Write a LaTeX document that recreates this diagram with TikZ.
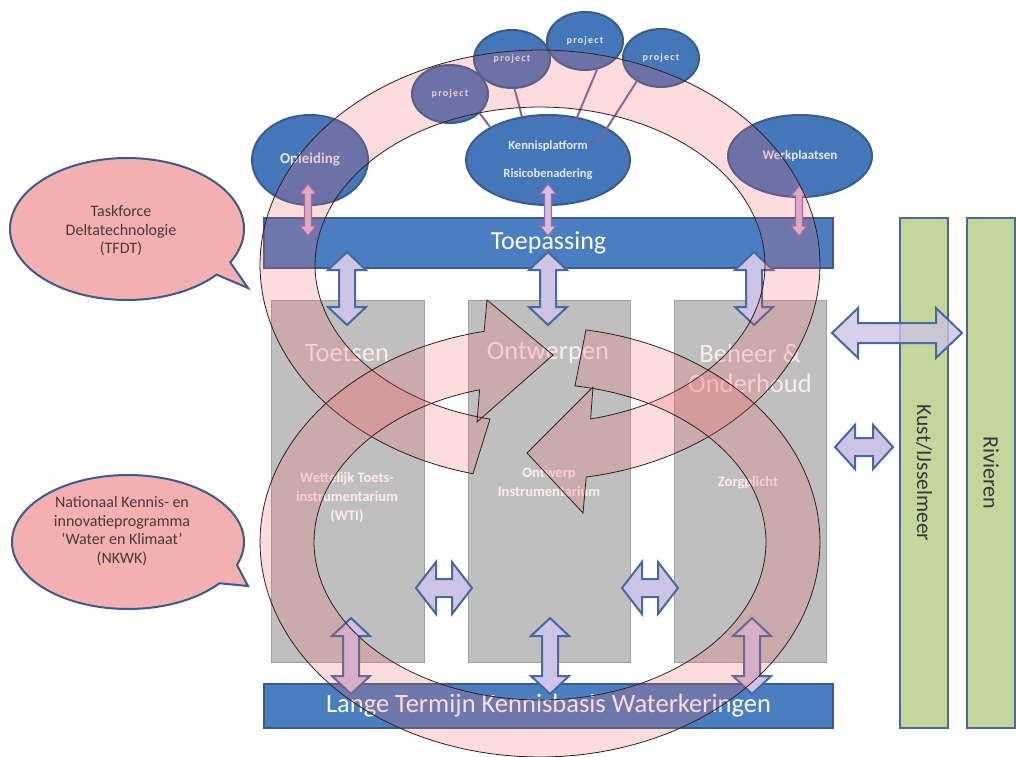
\documentclass[tikz,border=0pt]{standalone}
\usepackage{fontspec}
\setmainfont{Carlito}
\usetikzlibrary{shapes.geometric}
\definecolor{calloutpink}{RGB}{244,176,176}
\definecolor{calloutborder}{RGB}{60,90,140}
\definecolor{calltext}{RGB}{70,58,58}
\definecolor{pillargray}{RGB}{191,191,191}
\definecolor{pillarborder}{RGB}{160,160,160}
\definecolor{pillartext}{RGB}{252,236,236}
\definecolor{bluefill}{RGB}{74,126,193}
\definecolor{blueborder}{RGB}{56,93,138}
\definecolor{ellfill}{RGB}{70,118,186}
\definecolor{elltext}{RGB}{228,234,246}
\definecolor{connpurple}{RGB}{128,100,162}
\definecolor{arrowfill}{RGB}{204,196,228}
\definecolor{arrowborder}{RGB}{70,105,160}
\definecolor{thinfill}{RGB}{215,190,220}
\definecolor{thinborder}{RGB}{150,110,170}
\definecolor{greenfill}{RGB}{195,214,155}
\definecolor{greenborder}{RGB}{75,105,150}
\definecolor{gtextcol}{RGB}{55,55,55}
\definecolor{ringfill}{RGB}{245,100,100}
\definecolor{ringline}{RGB}{50,30,30}
% vertical double arrow: style, x, ytop, ybottom, shaft half, head half, head length
\newcommand\VDA[7]{%
\filldraw[#1] (#2,#3) -- ({#2+#6},{#3+#7}) -- ({#2+#5},{#3+#7}) -- ({#2+#5},{#4-#7}) -- ({#2+#6},{#4-#7}) -- (#2,#4) -- ({#2-#6},{#4-#7}) -- ({#2-#5},{#4-#7}) -- ({#2-#5},{#3+#7}) -- ({#2-#6},{#3+#7}) -- cycle;}
% horizontal double arrow: style, y, xleft, xright, shaft half, head half, head length
\newcommand\HDA[7]{%
\filldraw[#1] (#3,#2) -- ({#3+#7},{#2-#6}) -- ({#3+#7},{#2-#5}) -- ({#4-#7},{#2-#5}) -- ({#4-#7},{#2-#6}) -- (#4,#2) -- ({#4-#7},{#2+#6}) -- ({#4-#7},{#2+#5}) -- ({#3+#7},{#2+#5}) -- ({#3+#7},{#2+#6}) -- cycle;}
\begin{document}
\begin{tikzpicture}[x=1pt,y=-1pt,
  callout/.style={fill=calloutpink, draw=calloutborder, line width=2pt},
  ctext/.style={text=calltext, align=center, font=\fontsize{16}{18.5}\selectfont},
  pillar/.style={draw=pillarborder, fill=pillargray, line width=0.8pt, inner sep=0pt, minimum height=362pt},
  ptitle/.style={text=pillartext, align=center, font=\fontsize{26.5}{30}\selectfont},
  psub/.style={text=pillartext, align=center, font=\fontsize{14.5}{19}\selectfont\bfseries},
  bluebar/.style={draw=blueborder, fill=bluefill, line width=1.5pt, text=white, inner sep=0pt, minimum width=569pt},
  blueell/.style={ellipse, draw=blueborder, fill=ellfill, line width=2pt, text=elltext, align=center, inner sep=0pt},
  proj/.style={blueell, minimum width=76pt, minimum height=58pt, font=\fontsize{10}{12}\selectfont\bfseries\addfontfeature{LetterSpace=12}},
  conn/.style={draw=connpurple, line width=2pt},
  bigarrow/.style={fill=arrowfill, draw=arrowborder, line width=2pt, line join=miter},
  thinarrow/.style={fill=thinfill, draw=thinborder, line width=1.2pt, line join=miter},
  greenbar/.style={draw=greenborder, fill=greenfill, line width=2pt, inner sep=0pt, minimum width=48pt, minimum height=510pt},
  gtext/.style={text=gtextcol, rotate=-90, font=\fontsize{21.5}{24}\selectfont},
  ring/.style={fill=ringfill, fill opacity=0.22, draw=ringline, line width=0.8pt}]
\useasboundingbox (0,0) rectangle (1016,756);
\fill[white] (0,0) rectangle (1016,756);
\clip (0,0) rectangle (1016,756);

% callouts
\filldraw[callout] plot[domain=40:388, samples=120] ({127+117*cos(\x)},{229+71*sin(\x)}) -- (248,288) -- cycle;
\node[ctext] (tfdt) at (121,231) {Taskforce\\Deltatechnologie\\(TFDT)};
\filldraw[callout] plot[domain=38:380, samples=120] ({128+116*cos(\x)},{542+67*sin(\x)}) -- (248,586) -- cycle;
\node[ctext] (nkwk) at (122,531) {Nationaal Kennis- en\\innovatieprogramma\\‘Water en Klimaat’\\(NKWK)};

% green bars
\node[greenbar] (kust) at (924,473) {};
\node[greenbar] (riv) at (991,473) {};
\node[gtext] (kustt) at (924,473) {Kust/IJsselmeer};
\node[gtext, font=\fontsize{22}{24}\selectfont] (rivt) at (991,473) {Rivieren};

% pillars
\node[pillar, minimum width=153pt] (pil1) at (347.5,481) {};
\node[pillar, minimum width=162pt] (pil2) at (549,481) {};
\node[pillar, minimum width=152pt] (pil3) at (750,481) {};
\node[ptitle] (t1) at (347,353) {Toetsen};
\node[ptitle] (t2) at (548,353) {Ontwerpen};
\node[ptitle] (t3) at (750,368) {Beheer \&\\Onderhoud};
\node[psub] (s1) at (347,497) {Wettelijk Toets-\\instrumentarium\\(WTI)};
\node[psub] (s2) at (549,482) {Ontwerp\\Instrumentarium};
\node[psub] (s3) at (748,483) {Zorgplicht};

% bars
\node[bluebar, minimum height=50pt, font=\fontsize{26}{30}\selectfont] (toep) at (548.5,243) {Toepassing};
\node[bluebar, minimum height=44pt, font=\fontsize{26.5}{30}\selectfont] (lange) at (548.5,706) {Lange Termijn Kennisbasis Waterkeringen};

% ellipses
\node[blueell, minimum width=116pt, minimum height=90pt, font=\fontsize{15}{18}\selectfont\bfseries] (opl) at (310,160) {Opleiding};
\node[blueell, minimum width=164pt, minimum height=90pt, font=\fontsize{12.5}{15}\selectfont\bfseries] (kp) at (548,160) {Kennisplatform\\[13pt]Risicobenadering};
\node[blueell, minimum width=144pt, minimum height=82pt, font=\fontsize{13}{15}\selectfont\bfseries] (wp) at (800,156) {Werkplaatsen};
\node[proj] (p1) at (450,94) {project};
\node[proj] (p2) at (512,59) {project};
\node[proj] (p3) at (585,41) {project};
\node[proj] (p4) at (661,58) {project};
\coordinate (k1) at (490,127);
\coordinate (k2) at (522,117);
\coordinate (k3) at (575,122);
\coordinate (k4) at (598,142);
\draw[conn] (p1.-33) -- (k1);
\draw[conn] (p2.-85) -- (k2);
\draw[conn] (p3.-67) -- (k3);
\draw[conn] (p4.-136) -- (k4);

% thin arrows ellipse -> Toepassing
\VDA{thinarrow}{308}{184}{236}{3.5}{8}{10}
\VDA{thinarrow}{548}{184}{236}{3.5}{8}{10}
\VDA{thinarrow}{799}{186}{236}{3.5}{8}{10}

% double arrows Toepassing <-> pillars
\VDA{bigarrow}{347}{252}{325}{8}{19}{18}
\VDA{bigarrow}{548}{252}{325}{8}{19}{18}
\VDA{bigarrow}{754}{252}{325}{8}{19}{18}
% pillars <-> Lange Termijn
\VDA{bigarrow}{351}{618}{694}{8}{19}{18}
\VDA{bigarrow}{550}{618}{694}{8}{19}{18}
\VDA{bigarrow}{752}{618}{694}{8}{19}{18}
% between pillars
\HDA{bigarrow}{588}{416}{472}{9}{26}{20}
\HDA{bigarrow}{588}{622}{678}{9}{26}{20}
% right side
\HDA{bigarrow, fill opacity=0.8}{333}{832}{962}{10}{25}{26}
\HDA{bigarrow}{447}{835}{893}{9}{22}{20}

% circular arrows
\filldraw[ring] plot[domain=103.85:440.5, samples=140] ({540+280*cos(\x)},{265+215*sin(\x)}) -- (583,513) -- (527,453) -- (593,387) -- plot[domain=437:102.84, samples=140] ({540+225*cos(\x)},{265+158*sin(\x)}) -- cycle;
\filldraw[ring] plot[domain=279.45:618.5, samples=140] ({540+280*cos(\x)},{542+215*sin(\x)}) -- (487,300) -- (553,355) -- (477,422) -- plot[domain=614.5:278.9, samples=140] ({540+226*cos(\x)},{542+158*sin(\x)}) -- cycle;
\end{tikzpicture}
\end{document}
